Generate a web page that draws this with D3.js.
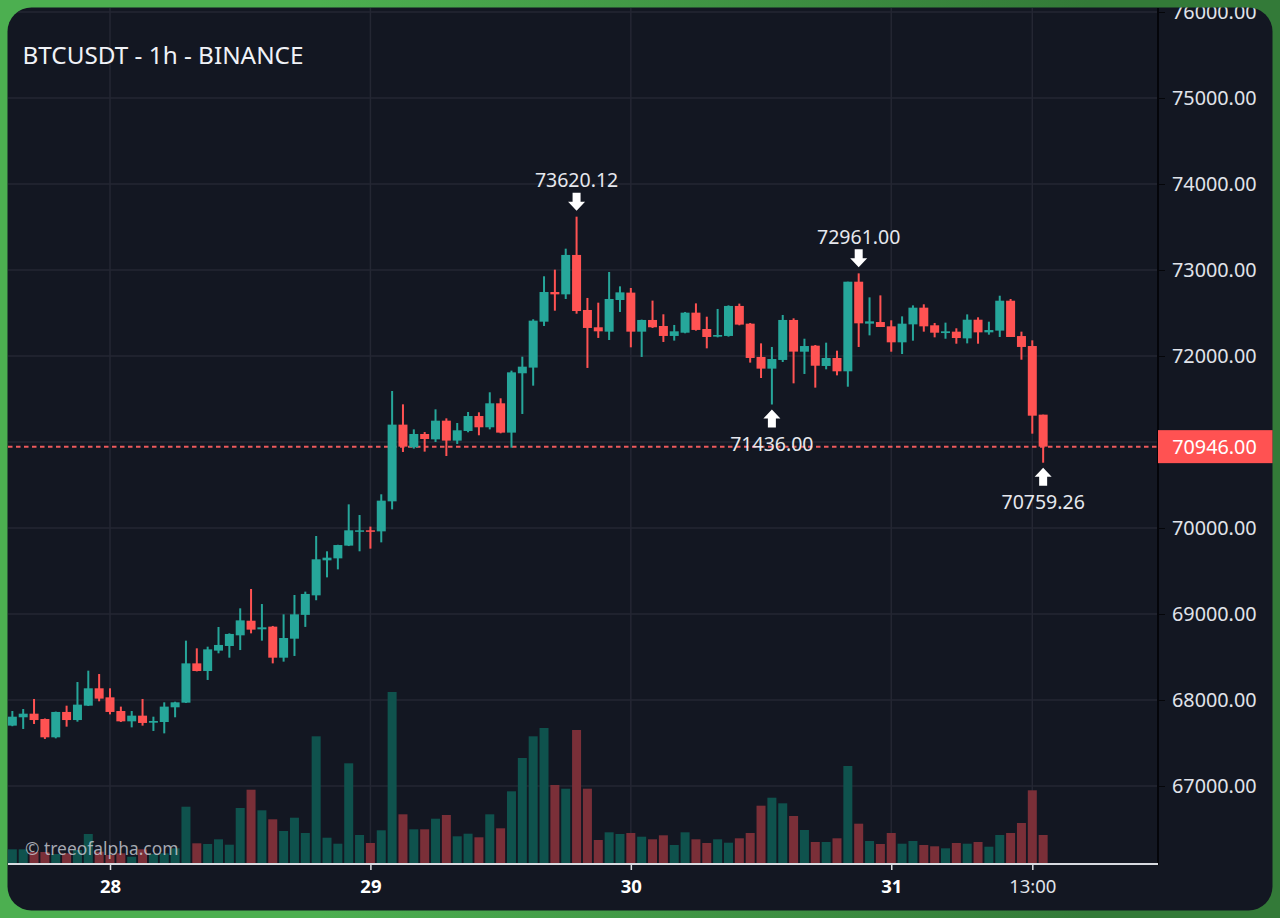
<!DOCTYPE html>
<html>
<head>
<meta charset="utf-8">
<title>BTCUSDT - 1h - BINANCE</title>
<script src="https://d3js.org/d3.v7.min.js"></script>
<style>
  html, body { margin: 0; padding: 0; background: #131722; }
  svg { display: block; }
  text { font-family: "Noto Sans", sans-serif; }
</style>
</head>
<body>
<svg id="chart" width="1280" height="918"></svg>
<script>
(function() {
  // one candle per hour, the first one is 27 Oct 15:00
  var firstCandle = Date.UTC(2024, 9, 27, 15);
  var hour = 3600000;

  var opens = [
    67702,67799,67841,67779,67566,67861,67767,67934,68136,68031,67872,67752,67818,67736,67744,67915,67969,68426,68337,68574,68628,68752,68922,68822,68853,68492,68713,
    68990,69217,69624,69647,69795,69957,69973,69961,70310,71202,70938,71093,71031,71248,71016,71128,71302,71171,71450,71109,
    71799,71865,72399,72744,72717,73175,72535,72334,72283,72651,72737,72283,72419,72349,72233,72271,72504,72314,72225,72233,72582,72376,71989,71853,71954,72419,
    72050,72120,71884,71977,71822,72864,72376,72395,72345,72159,72368,72562,72357,72267,72283,72205,72422,72275,72295,72643,72232,72116,71318
  ];
  var closes = [
    67806,67841,67767,67566,67861,67767,67946,68136,68016,67861,67752,67818,67733,67756,67923,67973,68426,68337,68589,68640,68768,68926,68818,68845,68492,68721,68996,
    69233,69636,69655,69802,69973,69973,69957,70318,71202,70946,71093,71035,71248,71016,71136,71302,71171,71450,71109,71810,
    71876,72411,72744,72717,73175,72523,72326,72287,72663,72740,72283,72419,72334,72233,72287,72504,72303,72221,72244,72582,72365,71977,71853,71965,72419,72051,
    72116,71887,71977,71822,72864,72380,72403,72337,72159,72376,72562,72345,72271,72287,72209,72422,72275,72302,72643,72221,72105,71306,70946
  ];
  var highs = [
    67872,67895,68012,67785,67865,67934,68209,68341,68302,68136,67923,67872,68012,67806,67973,67980,68690,68601,68620,68849,68775,69066,69291,69116,68861,68996,69221,
    69260,69907,69729,69805,70275,70151,70016,70392,71593,71438,71147,71116,71380,71275,71221,71349,71345,71578,71508,71830,
    71992,72427,72927,73004,73248,73620.12,72675,72620,72977,72810,72791,72423,72644,72485,72361,72512,72612,72457,72547,72589,72609,72384,72147,72105,72477,72438,
    72201,72128,72155,72062,72864,72961,72682,72705,72415,72461,72589,72601,72384,72388,72322,72484,72450,72399,72701,72663,72283,72182,71318
  ];
  var lows = [
    67695,67663,67721,67547,67554,67690,67748,67930,67985,67833,67744,67682,67702,67640,67612,67799,67965,68333,68233,68543,68492,68581,68775,68690,68426,68446,68512,
    68850,69160,69426,69519,69790,69729,69760,69833,70217,70884,70923,70888,71000,70837,70977,71113,71078,71147,71101,70934,
    71326,71655,72349,72527,72663,72492,71861,72210,72186,72512,72101,71989,72326,72163,72179,72264,72295,72089,72217,72225,72357,71923,71744,71436,71930,71682,
    71791,71632,71845,71775,71643,72105,72240,72337,72050,72023,72178,72283,72217,72201,72143,72147,72143,72248,72221,72221,71957,71097,70759.26
  ];
  var volumes = [
    1470,1470,1200,1200,1000,1070,1400,3000,1230,900,1070,730,1470,1000,1070,1570,5730,2070,2000,2470,1930,5600,7430,5370,4470,3300,4630,
    3100,12770,2630,2030,10070,2900,2100,3370,17200,4970,3470,3470,4530,4900,2770,3030,2670,4970,3570,7270,
    10600,12770,13600,7900,7530,13400,7530,2400,3170,3000,3100,2730,2470,2870,1900,3170,2470,2100,2470,2130,2570,3100,5830,6630,6070,4800,
    3400,2200,2200,2570,9800,4030,2300,2000,3100,2030,2300,1900,1770,1570,2100,2030,2200,1730,2900,3100,4100,7370,2900
  ];

  var priceTicks = [67000, 68000, 69000, 70000, 71000, 72000, 73000, 74000, 75000, 76000];
  var timeTicks = [Date.UTC(2024, 9, 28), Date.UTC(2024, 9, 29), Date.UTC(2024, 9, 30), Date.UTC(2024, 9, 31), Date.UTC(2024, 9, 31, 13)];
  var timeLabels = ["28", "29", "30", "31", "13:00"];

  var lastPrice = 70946;
  var highMarkers = [52, 78];
  var lowMarkers = [70, 95];

  var title = "BTCUSDT - 1h - BINANCE";
  var watermark = "\u00a9 treeofalpha.com";

  var green = "#26a69a", red = "#ff5252";
  var greenVol = "#0f524d", redVol = "#7a2f38";
  var gridColor = "#242733";
  var plotRight = 1158, plotBottom = 864;

  var x = d3.scaleUtc()
    .domain([Date.UTC(2024, 9, 28), Date.UTC(2024, 9, 31, 13)])
    .range([110, 1032.3]);
  var y = d3.scaleLinear().domain([67000, 76000]).range([786, 12]);
  var yVolume = d3.scaleLinear().domain([0, 20000]).range([plotBottom, plotBottom - 200]);

  var candles = opens.map(function(open, i) {
    return {
      i: i,
      time: firstCandle + i * hour,
      open: open,
      close: closes[i],
      high: highs[i],
      low: lows[i],
      volume: volumes[i],
      up: closes[i] >= open
    };
  });

  var svg = d3.select("#chart");

  var defs = svg.append("defs");
  var gradient = defs.append("linearGradient").attr("id", "frame");
  gradient.append("stop").attr("offset", "0%").attr("stop-color", "#4caf50");
  gradient.append("stop").attr("offset", "25%").attr("stop-color", "#4caf50");
  gradient.append("stop").attr("offset", "85%").attr("stop-color", "#337a38");
  gradient.append("stop").attr("offset", "100%").attr("stop-color", "#337a38");
  defs.append("clipPath").attr("id", "card").append("rect")
    .attr("x", 7.5).attr("y", 7.5).attr("width", 1265).attr("height", 903).attr("rx", 24);

  svg.append("rect").attr("width", 1280).attr("height", 918).attr("fill", "url(#frame)");

  var card = svg.append("g").attr("clip-path", "url(#card)");
  card.append("rect").attr("width", 1280).attr("height", 918).attr("fill", "#131722");

  // grid
  card.append("g").selectAll("line").data(priceTicks).join("line")
    .attr("x1", 8).attr("x2", plotRight)
    .attr("y1", function(d) { return y(d); })
    .attr("y2", function(d) { return y(d); })
    .attr("stroke", gridColor).attr("stroke-width", 1.5);
  card.append("g").selectAll("line").data(timeTicks).join("line")
    .attr("x1", function(d) { return x(d); })
    .attr("x2", function(d) { return x(d); })
    .attr("y1", 8).attr("y2", plotBottom)
    .attr("stroke", gridColor).attr("stroke-width", 1.5);

  // volume
  card.append("g").selectAll("rect").data(candles).join("rect")
    .attr("x", function(d) { return x(d.time) - 4.5; })
    .attr("width", 9)
    .attr("y", function(d) { return yVolume(d.volume); })
    .attr("height", function(d) { return plotBottom - yVolume(d.volume); })
    .attr("fill", function(d) { return d.up ? greenVol : redVol; });

  // last price line
  card.append("line")
    .attr("x1", 8).attr("x2", plotRight)
    .attr("y1", y(lastPrice)).attr("y2", y(lastPrice))
    .attr("stroke", "#ee5a5c").attr("stroke-width", 2)
    .attr("stroke-dasharray", "4.5 3.5");

  // candles
  var candle = card.append("g").selectAll("g").data(candles).join("g")
    .attr("fill", function(d) { return d.up ? green : red; });
  candle.append("rect")
    .attr("x", function(d) { return x(d.time) - 1; })
    .attr("width", 2)
    .attr("y", function(d) { return y(d.high); })
    .attr("height", function(d) { return y(d.low) - y(d.high); });
  candle.append("rect")
    .attr("x", function(d) { return x(d.time) - 4.5; })
    .attr("width", 9)
    .attr("y", function(d) { return y(Math.max(d.open, d.close)); })
    .attr("height", function(d) { return Math.max(1.5, Math.abs(y(d.open) - y(d.close))); });

  // arrows at the extremes
  var arrowDown = "M-4,-18H4V-9H8.5L0,0L-8.5,-9H-4Z";
  var arrowUp = "M-4,18H4V9H8.5L0,0L-8.5,9H-4Z";
  var marks = card.append("g");
  highMarkers.forEach(function(i) {
    var d = candles[i];
    marks.append("path").attr("d", arrowDown).attr("fill", "#ffffff")
      .attr("transform", "translate(" + x(d.time) + "," + (y(d.high) - 6) + ")");
    marks.append("text").attr("x", x(d.time)).attr("y", y(d.high) - 29.5)
      .attr("text-anchor", "middle").attr("fill", "#e6e8ee").attr("font-size", 19.5)
      .text(d.high.toFixed(2));
  });
  lowMarkers.forEach(function(i) {
    var d = candles[i];
    marks.append("path").attr("d", arrowUp).attr("fill", "#ffffff")
      .attr("transform", "translate(" + x(d.time) + "," + (y(d.low) + 5) + ")");
    marks.append("text").attr("x", x(d.time)).attr("y", y(d.low) + 46)
      .attr("text-anchor", "middle").attr("fill", "#e6e8ee").attr("font-size", 19.5)
      .text(d.low.toFixed(2));
  });

  // axes
  var priceAxis = d3.axisRight(y)
    .tickValues(priceTicks)
    .tickFormat(function(d) { return d === 71000 ? "" : d.toFixed(2); }) // hidden behind the last price tag
    .tickSize(7)
    .tickPadding(7);
  var priceGroup = card.append("g")
    .attr("transform", "translate(" + plotRight + ",0)")
    .call(priceAxis);
  priceGroup.select(".domain").remove();
  priceGroup.selectAll("line").attr("stroke", "#05060a").attr("stroke-width", 1);
  priceGroup.selectAll("text")
    .attr("fill", "#e0e3ea").attr("font-size", 19.8)
    .attr("font-family", "\"Noto Sans\", sans-serif");

  var timeAxis = d3.axisBottom(x)
    .tickValues(timeTicks)
    .tickFormat(function(d, i) { return timeLabels[i]; })
    .tickSize(6)
    .tickPadding(10);
  var timeGroup = card.append("g")
    .attr("transform", "translate(0," + plotBottom + ")")
    .call(timeAxis);
  timeGroup.select(".domain").remove();
  timeGroup.selectAll("line").attr("stroke", "#d8dae0").attr("stroke-width", 1.5);
  timeGroup.selectAll("text")
    .attr("fill", function(d, i) { return i < 4 ? "#ffffff" : "#e0e3ea"; })
    .attr("font-size", 18.5)
    .attr("font-weight", function(d, i) { return i < 4 ? "700" : "400"; })
    .attr("font-family", "\"Noto Sans\", sans-serif");

  card.append("line")
    .attr("x1", plotRight).attr("x2", plotRight)
    .attr("y1", 8).attr("y2", plotBottom + 1)
    .attr("stroke", "#04050a").attr("stroke-width", 2);
  card.append("line")
    .attr("x1", 8).attr("x2", plotRight)
    .attr("y1", plotBottom).attr("y2", plotBottom)
    .attr("stroke", "#d8dae0").attr("stroke-width", 2);

  // last price tag
  card.append("rect")
    .attr("x", plotRight).attr("y", y(lastPrice) - 16.5)
    .attr("width", 116).attr("height", 33)
    .attr("fill", red);
  card.append("text")
    .attr("x", plotRight + 56.5).attr("y", y(lastPrice) + 7)
    .attr("text-anchor", "middle").attr("fill", "#ffffff").attr("font-size", 19.8)
    .text(lastPrice.toFixed(2));

  card.append("text")
    .attr("x", 22.5).attr("y", 64)
    .attr("fill", "#f0f2f7").attr("font-size", 24.3)
    .text(title);
  card.append("text")
    .attr("x", 25).attr("y", 855)
    .attr("fill", "#d1d4dc").attr("fill-opacity", 0.78).attr("font-size", 17.4)
    .text(watermark);
}).call(this);
</script>
</body>
</html>
